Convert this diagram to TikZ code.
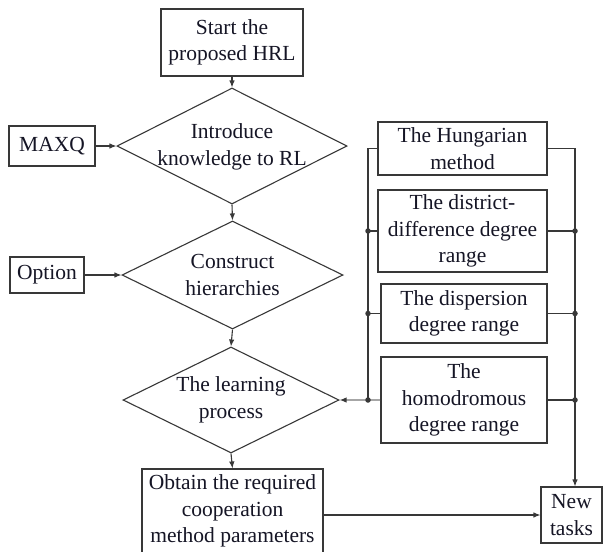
\documentclass[tikz,border=0pt]{standalone}
\usepackage{fontspec}
\setmainfont{Liberation Serif}
\usetikzlibrary{shapes.geometric,arrows.meta}
\definecolor{ln}{HTML}{383838}
\definecolor{tx}{HTML}{151525}
\tikzset{
  every node/.style={font=\fontsize{21.5}{26.5}\selectfont, text=tx, align=center, inner sep=0pt},
  box/.style={draw=ln, line width=1.1pt, rectangle},
  dia/.style={draw=ln, line width=1.1pt, diamond},
  conn/.style={draw=ln, line width=1.1pt},
  arr/.style={conn, -{Latex[length=7pt,width=5.5pt]}},
  garr/.style={draw=black!35, line width=1.3pt, -{Latex[length=7pt,width=5.5pt,color=ln]}},
  dot/.style={circle, fill=ln, minimum size=5.5pt, inner sep=0pt}
}
\begin{document}
\begin{tikzpicture}[x=1pt,y=-1pt]
\useasboundingbox (0,0) rectangle (603,552);
\clip (0,0) rectangle (603,552);
\fill[white] (0,0) rectangle (603,552);
% main column
\node[box, minimum width=142pt, minimum height=67pt] (start) at (232,42.5) {Start the\\proposed HRL};
\node[dia, minimum width=230pt, minimum height=116pt] (d1) at (232,146) {};
\node at (232,147) {Introduce\\knowledge to RL};
\node[dia, minimum width=221pt, minimum height=108pt] (d2) at (232.5,275) {};
\node at (232.5,275) {Construct\\hierarchies};
\node[dia, minimum width=216pt, minimum height=106pt] (d3) at (231,400) {};
\node at (231,400) {The learning\\process};
\node[box, minimum width=181pt, minimum height=84pt] (obtain) at (232.5,511) {Obtain the required\\cooperation\\method parameters};
% left inputs
\node[box, minimum width=86pt, minimum height=40pt] (maxq) at (52,146) {MAXQ};
\node[box, minimum width=74pt, minimum height=36pt] (option) at (47,275) {Option};
% right column
\node[box, minimum width=169pt, minimum height=53pt] (hung) at (462.5,148.5) {The Hungarian\\method};
\node[box, minimum width=169pt, minimum height=82pt] (dist) at (462.5,231) {The district-\\difference degree\\range};
\node[box, minimum width=166pt, minimum height=59pt] (disp) at (464,313.5) {The dispersion\\degree range};
\node[box, minimum width=166pt, minimum height=86pt] (homo) at (464,400) {The\\homodromous\\degree range};
\node[box, minimum width=61pt, minimum height=56pt] (new) at (571.5,515) {New\\tasks};
% bus coordinates
\coordinate (lb1) at (368,148.5);
\coordinate (lb2) at (368,231);
\coordinate (lb3) at (368,313.5);
\coordinate (lb4) at (368,400);
\coordinate (rb1) at (575,148.5);
\coordinate (rb2) at (575,231);
\coordinate (rb3) at (575,313.5);
\coordinate (rb4) at (575,400);
% main arrows
\draw[arr] (start.south) -- (d1.north);
\draw[arr] (d1.south) -- (d2.north);
\draw[arr] (d2.south) -- (d3.north);
\draw[arr] (d3.south) -- (obtain.north);
\draw[arr] (maxq.east) -- (d1.west);
\draw[arr] (option.east) -- (d2.west);
\draw[arr] (new.west -| obtain.east) -- (new.west);
% left bus
\draw[conn] (hung.west) -- (lb1) -- (lb4);
\draw[conn] (dist.west) -- (lb2);
\draw[conn] (disp.west) -- (lb3);
\draw[draw=black!35, line width=1.3pt] (homo.west) -- (lb4);
\draw[garr] (lb4) -- (d3.east);
% right bus
\draw[conn] (hung.east) -- (rb1) -- (rb4);
\draw[arr] (rb4) -- (rb4 |- new.north);
\draw[conn] (dist.east) -- (rb2);
\draw[conn] (disp.east) -- (rb3);
\draw[conn] (homo.east) -- (rb4);
% dots
\node[dot] at (lb2) {};
\node[dot] at (lb3) {};
\node[dot] at (lb4) {};
\node[dot] at (rb2) {};
\node[dot] at (rb3) {};
\node[dot] at (rb4) {};
\end{tikzpicture}
\end{document}
